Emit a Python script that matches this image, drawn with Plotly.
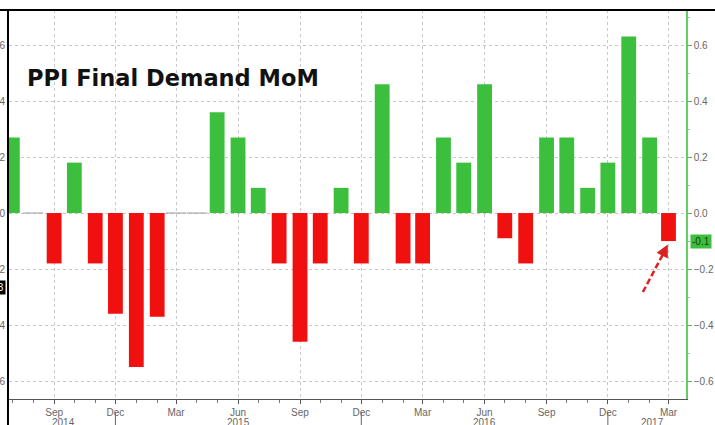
import plotly.graph_objects as go
import pandas as pd

# ---- data ----
months = pd.date_range("2014-07-01", "2017-03-01", freq="MS")
values = [0.27, 0.0, -0.18, 0.18, -0.18, -0.36, -0.55, -0.37, 0.0, 0.0,
          0.36, 0.27, 0.09, -0.18, -0.46, -0.18, 0.09, -0.18, 0.46, -0.18,
          -0.18, 0.27, 0.18, 0.46, -0.09, -0.18, 0.27, 0.27, 0.09, 0.18,
          0.63, 0.27, -0.10]
tick_dates = pd.date_range("2014-09-01", "2017-03-01", freq="3MS")
tick_text = [d.strftime("%b") for d in tick_dates]
year_labels = ["2014", "2015", "2016", "2017"]
year_pos = ["2014-09-15", "2015-06-01", "2016-06-01", "2017-02-05"]
year_seps = ["2014-12-01", "2015-12-01", "2016-12-01"]
y_ticks = [-0.6, -0.4, -0.2, 0.0, 0.2, 0.4, 0.6]

GREEN = "#3cbf3c"
RED = "#f01010"
colors = [GREEN if v > 0 else RED for v in values]

fig = go.Figure()
fig.add_trace(go.Bar(
    x=months, y=values, marker=dict(color=colors, line=dict(width=0)),
    width=22 * 86400000, yaxis="y", showlegend=False, hoverinfo="x+y"))

# zero-value months drawn as thin grey segments
zx, zy = [], []
for d, v in zip(months, values):
    if v == 0:
        zx += [d - pd.Timedelta(days=15), d + pd.Timedelta(days=15), None]
        zy += [0, 0, None]
fig.add_trace(go.Scatter(x=zx, y=zy, mode="lines", line=dict(color="#aaaaaa", width=1.2),
                         showlegend=False, hoverinfo="skip", yaxis="y"))
# dummy trace for left axis
fig.add_trace(go.Scatter(x=[months[0]], y=[0], mode="markers", marker=dict(opacity=0),
                         yaxis="y2", showlegend=False, hoverinfo="skip"))

rng = [-0.664, 0.725]
tickfont = dict(family="Liberation Sans, Arial", size=10, color="#666666")

fig.update_layout(
    width=715, height=425, template="none",
    margin=dict(l=9, r=29, t=10, b=26),
    paper_bgcolor="white", plot_bgcolor="white",
    bargap=0.27,
    xaxis=dict(
        type="date", range=["2014-06-26", "2017-03-27"],
        tickvals=tick_dates, ticktext=tick_text, tickfont=tickfont,
        showgrid=True, gridcolor="#c8c8c8", griddash="dot", gridwidth=1,
        showline=True, linecolor="#555555", linewidth=1,
        ticks="outside", ticklen=4, tickcolor="#555555",
        minor=dict(dtick="M1", ticks="outside", ticklen=3, tickcolor="#777777", showgrid=False),
        zeroline=False, automargin=False, fixedrange=True,
    ),
    yaxis=dict(
        side="right", range=rng, tickvals=y_ticks, tickformat=".1f",
        tickfont=tickfont, showgrid=True, gridcolor="#c8c8c8", griddash="dot",
        showline=True, linecolor="#66cc66", linewidth=1.5,
        ticks="outside", ticklen=4, tickcolor="#55bb55",
        minor=dict(dtick=0.1, ticks="outside", ticklen=2, tickcolor="#88cc88", showgrid=False),
        zeroline=False, automargin=False,
    ),
    yaxis2=dict(
        side="left", overlaying="y", range=rng, tickvals=y_ticks, tickformat=".1f",
        tickfont=tickfont, showgrid=False, showline=True, linecolor="black", linewidth=2,
        ticks="", zeroline=False, automargin=False,
    ),
)

# title
fig.add_annotation(text="<b>PPI Final Demand MoM</b>", xref="paper", yref="paper",
                   x=(25 - 9) / 677, y=(399 - 78) / 389, xanchor="left", yanchor="middle",
                   showarrow=False, font=dict(family="DejaVu Sans", size=22.5, color="#111111"))

# year labels
for t, p in zip(year_labels, year_pos):
    fig.add_annotation(text=t, x=p, xref="x", yref="paper", y=(399 - 422) / 389,
                       yanchor="middle", showarrow=False, font=tickfont)
for s in year_seps:
    fig.add_shape(type="line", xref="x", yref="paper", x0=s, x1=s,
                  y0=(399 - 413) / 389, y1=(399 - 430) / 389,
                  line=dict(color="#666666", width=1))

# last value tag on the right
fig.add_annotation(text="-0.1", xref="paper", yref="y", x=1.006, y=values[-1],
                   xanchor="left", yanchor="middle", showarrow=False,
                   bgcolor=GREEN, borderpad=1,
                   font=dict(family="Liberation Sans, Arial", size=10, color="#1a3a1a"))
# cut-off black tag on the left
fig.add_annotation(text="-0.3", xref="paper", yref="y", x=-0.0045, y=-0.265,
                   xanchor="right", yanchor="middle", showarrow=False,
                   bgcolor="black", borderpad=1,
                   font=dict(family="Liberation Sans, Arial", size=10, color="white"))

# top black frame line
fig.add_shape(type="line", xref="paper", yref="paper", x0=-0.02, x1=1.06, y0=1, y1=1,
              line=dict(color="black", width=2))
fig.add_shape(type="line", xref="paper", yref="paper", x0=-0.0015, x1=-0.0015, y0=1, y1=-0.1,
              line=dict(color="black", width=2))

# red dashed arrow pointing to last bar
fig.add_shape(type="line", xref="x", yref="y", x0="2017-01-22", y0=-0.282,
              x1="2017-02-25", y1=-0.128, line=dict(color="#e02020", width=2.5, dash="6px,3px"))
fig.add_annotation(xref="x", yref="y", x="2017-02-28", y=-0.112, ax=-5, ay=10,
                   showarrow=True, arrowhead=2, arrowsize=1, arrowwidth=2.5,
                   arrowcolor="#e02020", text="")

fig.write_html("out.html", config={"displayModeBar": False},
               post_script="document.body.style.margin='0';document.body.style.overflow='hidden';")
